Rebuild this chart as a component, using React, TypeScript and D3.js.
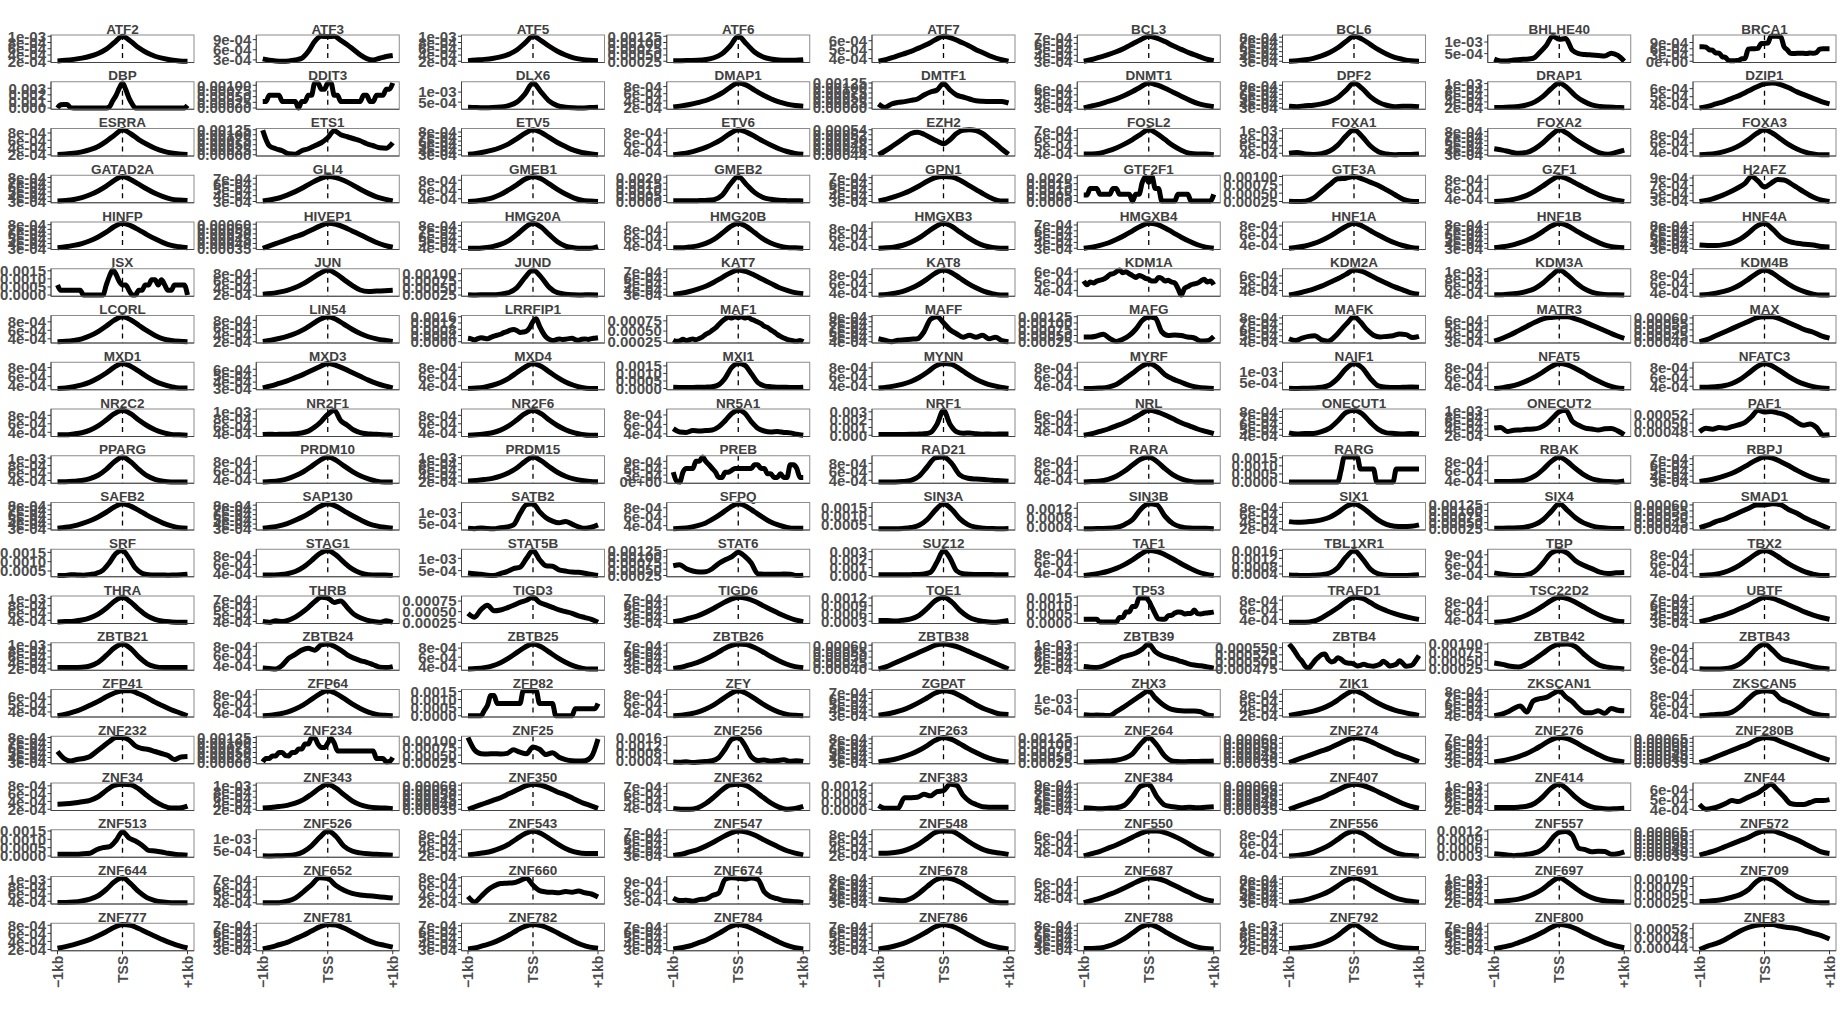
import React from "react";
import * as d3 from "d3";

// profile values and y ticks are stored in units of 1e-4
const UNIT = 1e-4;

const tfNames = [
  "ATF2", "ATF3", "ATF5", "ATF6", "ATF7", "BCL3", "BCL6", "BHLHE40", "BRCA1",
  "DBP", "DDIT3", "DLX6", "DMAP1", "DMTF1", "DNMT1", "DPF2", "DRAP1", "DZIP1",
  "ESRRA", "ETS1", "ETV5", "ETV6", "EZH2", "FOSL2", "FOXA1", "FOXA2", "FOXA3",
  "GATAD2A", "GLI4", "GMEB1", "GMEB2", "GPN1", "GTF2F1", "GTF3A", "GZF1", "H2AFZ",
  "HINFP", "HIVEP1", "HMG20A", "HMG20B", "HMGXB3", "HMGXB4", "HNF1A", "HNF1B", "HNF4A",
  "ISX", "JUN", "JUND", "KAT7", "KAT8", "KDM1A", "KDM2A", "KDM3A", "KDM4B",
  "LCORL", "LIN54", "LRRFIP1", "MAF1", "MAFF", "MAFG", "MAFK", "MATR3", "MAX",
  "MXD1", "MXD3", "MXD4", "MXI1", "MYNN", "MYRF", "NAIF1", "NFAT5", "NFATC3",
  "NR2C2", "NR2F1", "NR2F6", "NR5A1", "NRF1", "NRL", "ONECUT1", "ONECUT2", "PAF1",
  "PPARG", "PRDM10", "PRDM15", "PREB", "RAD21", "RARA", "RARG", "RBAK", "RBPJ",
  "SAFB2", "SAP130", "SATB2", "SFPQ", "SIN3A", "SIN3B", "SIX1", "SIX4", "SMAD1",
  "SRF", "STAG1", "STAT5B", "STAT6", "SUZ12", "TAF1", "TBL1XR1", "TBP", "TBX2",
  "THRA", "THRB", "TIGD3", "TIGD6", "TOE1", "TP53", "TRAFD1", "TSC22D2", "UBTF",
  "ZBTB21", "ZBTB24", "ZBTB25", "ZBTB26", "ZBTB38", "ZBTB39", "ZBTB4", "ZBTB42", "ZBTB43",
  "ZFP41", "ZFP64", "ZFP82", "ZFY", "ZGPAT", "ZHX3", "ZIK1", "ZKSCAN1", "ZKSCAN5",
  "ZNF232", "ZNF234", "ZNF25", "ZNF256", "ZNF263", "ZNF264", "ZNF274", "ZNF276", "ZNF280B",
  "ZNF34", "ZNF343", "ZNF350", "ZNF362", "ZNF383", "ZNF384", "ZNF407", "ZNF414", "ZNF44",
  "ZNF513", "ZNF526", "ZNF543", "ZNF547", "ZNF548", "ZNF550", "ZNF556", "ZNF557", "ZNF572",
  "ZNF644", "ZNF652", "ZNF660", "ZNF674", "ZNF678", "ZNF687", "ZNF691", "ZNF697", "ZNF709",
  "ZNF777", "ZNF781", "ZNF782", "ZNF784", "ZNF786", "ZNF788", "ZNF792", "ZNF800", "ZNF83",
];

// signal from -1kb to +1kb, points evenly spaced
const profiles: number[][] = [
  // row 1
  [2.1,2.3,2.6,3.0,3.6,4.5,5.9,8.0,10.0,8.4,6.3,4.7,3.6,2.9,2.4,2.1,2.0],
  [3.3,2.9,2.7,2.6,2.7,3.0,3.5,5.5,8.5,10.0,9.9,10.0,8.8,7.5,6.0,4.5,3.4,3.0,3.5,4.0,4.3],
  [2.2,2.4,2.6,2.9,3.4,4.2,5.6,7.8,10.0,8.6,6.8,5.2,4.0,3.1,2.6,2.3,2.2],
  [2.7,2.7,2.8,2.9,3.2,3.9,5.5,8.6,12.5,9.5,6.2,4.3,3.4,3.0,2.9,2.9,3.1],
  [3.7,3.9,4.2,4.5,4.8,5.2,5.6,6.1,6.5,6.3,5.9,5.5,5.0,4.6,4.2,3.9,3.7],
  [3.0,3.3,3.7,4.1,4.6,5.2,5.9,6.6,7.2,6.9,6.3,5.6,5.0,4.4,3.9,3.4,3.1],
  [3.0,3.1,3.3,3.6,4.1,4.8,5.8,7.1,8.2,7.6,6.5,5.4,4.5,3.8,3.4,3.1,3.0],
  [2.6,1.8,1.8,2.2,2.5,2.6,3.0,5.5,8.5,12.5,11.2,11.5,6.5,5.0,4.6,4.4,4.2,4.0,5.2,4.2,1.7],
  [7.0,7.0,6.8,5.5,5.3,4.0,3.9,2.2,1.8,0.3,0.2,0.3,0.4,1.2,1.3,5.8,6.0,6.0,6.2,8.5,
   8.6,8.7,12.0,12.0,12.0,11.8,7.0,5.5,3.8,3.7,3.8,3.8,3.8,3.7,4.0,3.8,4.2,5.8,6.0,6.0,6.0],
  // row 2
  [0,5,5.5,5.5,0.5,0,0,0,0,0,0,0,0,0,0,0,2,11,19,30,
   38,28,15,6,0,0,0,0,0,0,0,0,0,0,0,0,0,0,0,0,4],
  [2.9,2.9,5.6,5.6,5.6,5.6,2.9,2.9,2.9,2.9,2.9,0,2.9,2.9,5.6,5.6,11,11,8.3,8.3,
   11,11,5.6,5.6,2.9,2.9,2.9,2.9,2.9,2.9,2.9,5.6,5.6,2.9,2.9,5.6,5.6,5.6,8.3,8.3,11],
  [2.5,2.3,2.2,2.3,2.6,3.3,5.0,9.0,14.5,10.0,5.5,3.3,2.5,2.2,2.1,2.3,2.5],
  [2.3,2.6,3.0,3.5,4.1,5.0,6.2,7.8,9.0,8.4,7.0,5.7,4.6,3.7,3.1,2.7,2.5],
  [2.0,0.3,2.0,2.8,3.2,3.8,4.5,6.5,8.0,9.0,12.3,9.0,6.5,5.5,4.5,3.6,3.4,3.3,3.3,3.2,2.5],
  [3.0,3.3,3.6,4.0,4.4,4.9,5.5,6.2,6.8,6.5,6.0,5.4,4.8,4.2,3.7,3.4,3.2],
  [3.4,3.3,3.5,3.6,3.9,4.4,5.3,6.9,8.5,7.3,5.5,4.3,3.6,3.3,3.4,3.4,3.3],
  [2.2,2.2,2.3,2.5,3.0,4.0,5.8,8.3,10.2,8.6,6.0,4.2,3.0,2.5,2.3,2.2,2.1],
  [3.6,3.8,4.1,4.4,4.8,5.2,5.7,6.2,6.6,6.7,6.5,6.1,5.6,5.2,4.8,4.4,4.1],
  // row 3
  [2.1,2.2,2.4,2.8,3.4,4.3,5.7,7.4,8.9,7.8,6.2,4.9,3.8,3.0,2.5,2.2,2.1],
  [12.2,4.5,3.0,2.0,0.5,0.3,2.0,3.0,4.5,6.0,8.5,12.0,10.0,9.0,8.0,7.0,5.5,4.5,3.5,3.3,6.0],
  [3.1,3.3,3.6,4.0,4.6,5.4,6.5,7.7,8.5,7.9,6.8,5.7,4.8,4.0,3.5,3.2,3.0],
  [3.3,3.5,3.8,4.3,4.9,5.7,6.7,7.9,8.7,8.2,7.3,6.3,5.4,4.6,4.0,3.6,3.4],
  [4.40,4.55,4.72,4.90,5.08,5.25,5.30,5.22,5.08,4.95,4.84,5.00,5.25,5.38,5.40,5.37,5.25,5.05,4.85,4.62,4.42],
  [3.9,3.9,4.0,4.3,4.7,5.2,5.8,6.5,7.1,6.6,5.8,5.0,4.4,4.0,3.9,3.9,3.8],
  [4.0,4.2,3.8,3.7,3.9,4.6,6.2,8.6,10.3,8.5,6.0,4.4,3.8,3.6,3.7,3.7,3.8],
  [4.3,4.0,3.6,3.3,3.5,4.3,5.6,7.2,8.4,7.6,6.3,5.2,4.2,3.4,3.1,3.5,4.0],
  [3.3,3.4,3.6,4.0,4.6,5.5,6.7,8.1,9.0,8.2,6.9,5.6,4.6,3.9,3.5,3.3,3.3],
  // row 4
  [3.1,3.2,3.4,3.8,4.4,5.2,6.2,7.4,8.2,7.6,6.6,5.6,4.7,4.0,3.5,3.3,3.2],
  [3.1,3.3,3.6,4.1,4.7,5.4,6.2,6.9,7.3,7.1,6.6,5.9,5.1,4.4,3.8,3.4,3.1],
  [3.4,3.5,3.8,4.2,4.9,5.9,7.0,8.2,8.8,8.3,7.2,6.0,5.0,4.2,3.7,3.5,3.4],
  [0.6,0.6,0.6,0.7,0.9,1.5,5.0,14.0,20.5,14.0,7.5,3.5,1.8,1.0,0.7,0.6,0.5],
  [3.1,3.4,3.8,4.3,4.9,5.6,6.4,7.0,7.2,7.1,6.6,5.8,5.0,4.2,3.5,3.1,3.1],
  [5.5,5.5,11,11,11,6,6,6,6,11,11,6,6,6,6,0.5,6,6,16,21,
   16,21,11,11,0.5,0.5,0.5,0.5,0.5,6,6,6,6,0.5,0.5,0.5,0.5,0.5,0.5,0.5,6],
  [2.6,2.5,2.6,3.5,5.5,7.5,9.3,9.5,10.0,9.3,8.3,7.3,6.0,4.6,3.2,2.6,2.5],
  [3.3,3.4,3.6,4.0,4.6,5.5,6.6,7.8,8.6,8.1,7.2,6.3,5.4,4.6,4.0,3.6,3.3],
  [2.8,3.1,3.5,4.1,4.8,5.6,6.5,7.6,9.4,8.2,6.6,7.6,8.6,8.5,7.6,6.5,5.4,4.4,3.6,3.1,2.8],
  // row 5
  [3.1,3.3,3.6,4.0,4.6,5.4,6.4,7.6,8.3,7.8,6.9,5.9,5.0,4.2,3.6,3.3,3.1],
  [3.5,3.8,4.1,4.4,4.7,5.0,5.4,5.8,6.1,6.0,5.7,5.3,4.9,4.5,4.1,3.8,3.6],
  [3.8,3.8,3.9,4.1,4.5,5.2,6.3,7.6,8.4,7.7,6.3,5.0,4.2,3.9,3.8,3.8,4.1],
  [3.4,3.4,3.6,3.9,4.5,5.5,7.0,8.6,9.5,8.7,7.2,5.7,4.6,3.9,3.5,3.4,3.3],
  [3.4,3.5,3.7,4.1,4.8,5.8,7.1,8.4,9.2,8.5,7.2,5.9,4.8,4.0,3.6,3.4,3.4],
  [3.0,3.2,3.5,3.9,4.5,5.2,6.0,6.8,7.3,7.1,6.5,5.7,4.9,4.2,3.6,3.2,3.0],
  [3.1,3.3,3.6,4.1,4.8,5.7,6.8,7.9,8.6,8.0,7.0,6.0,5.1,4.3,3.7,3.3,3.1],
  [3.1,3.3,3.6,4.1,4.7,5.5,6.6,7.7,8.3,7.8,6.8,5.8,4.9,4.1,3.5,3.2,3.1],
  [3.7,3.6,3.6,3.8,4.2,5.0,6.3,7.8,8.5,7.2,5.4,4.5,4.1,3.9,3.7,3.4,3.3],
  // row 6
  [6.2,2.9,2.9,2.9,2.9,2.9,2.9,2.9,0,0,0,0,0,0,0,6.2,11.7,15.5,12.8,8.4,
   6.2,6.2,2.9,0,0,2.9,2.9,6.2,6.2,9.5,9.5,6.2,9.5,6.2,2.9,2.9,6.2,6.2,6.2,6.2,0],
  [2.2,2.4,2.8,3.3,4.1,5.2,6.6,8.0,9.0,8.0,6.3,4.7,3.4,3.0,3.1,3.2,3.3],
  [2.6,2.5,2.6,2.6,2.8,3.3,5.0,8.6,11.3,8.8,5.2,3.3,2.8,2.6,2.5,2.6,2.5],
  [3.1,3.3,3.6,4.0,4.5,5.2,6.0,6.8,7.3,7.0,6.4,5.7,5.0,4.3,3.8,3.4,3.2],
  [3.4,3.5,3.8,4.2,4.9,5.8,7.0,8.3,9.0,8.4,7.2,6.0,5.0,4.2,3.7,3.4,3.4],
  [5.0,4.6,4.9,4.8,5.0,5.1,5.2,5.4,5.7,5.8,6.0,6.2,5.9,6.0,5.8,5.6,5.4,5.6,5.5,5.3,
   5.2,5.0,5.0,5.4,5.3,5.0,5.1,4.9,4.8,4.2,3.5,4.2,4.4,4.6,4.7,4.8,5.0,5.2,4.9,5.0,4.6],
  [3.4,3.6,3.9,4.2,4.6,5.1,5.6,6.2,6.8,6.6,6.1,5.5,5.0,4.5,4.1,3.7,3.5],
  [3.6,3.6,3.8,4.0,4.5,5.3,6.8,8.8,10.4,9.0,7.0,5.3,4.3,3.8,3.6,3.6,3.5],
  [3.4,3.5,3.8,4.2,4.8,5.7,6.9,8.2,9.0,8.3,7.0,5.8,4.8,4.1,3.6,3.4,3.4],
  // row 7
  [3.3,3.4,3.6,4.0,4.7,5.7,7.0,8.4,9.2,8.5,7.2,5.9,4.8,4.0,3.6,3.4,3.3],
  [2.1,2.4,2.9,3.5,4.3,5.4,6.8,8.2,9.0,8.3,6.9,5.5,4.3,3.4,2.8,2.4,2.1],
  [2.2,1.8,1.2,2.0,2.6,2.2,1.9,2.8,3.6,4.2,4.8,5.8,6.5,7.4,7.8,7.2,6.0,6.2,6.8,9.0,
   13.0,14.8,10.0,6.0,3.0,1.5,0.8,1.2,1.8,1.5,1.6,2.0,2.2,1.4,0.9,1.6,1.8,1.5,2.0,2.3,2.6],
  [2.8,2.5,2.6,3.0,2.7,2.9,3.1,2.9,3.2,3.6,4.2,4.6,5.2,5.8,6.6,7.4,8.0,8.4,8.2,8.5,
   8.3,8.5,8.2,8.4,7.9,7.6,7.2,6.8,6.2,5.9,5.3,4.8,4.2,3.7,3.3,3.0,2.8,2.6,2.5,2.7,2.4],
  [4.6,4.3,4.0,4.3,4.4,4.5,4.6,6.0,8.5,9.0,7.8,6.4,5.6,4.9,5.3,4.9,5.3,4.6,4.9,4.2,4.0],
  [4.4,4.4,4.8,5.5,3.8,2.6,3.5,5.0,7.5,11.0,12.4,12.0,6.5,5.0,5.2,5.0,4.4,4.0,2.8,2.9,4.6],
  [4.5,4.2,4.6,4.9,5.0,4.3,4.1,4.8,6.0,7.2,8.2,7.3,6.0,5.1,4.8,4.9,5.0,5.3,5.2,4.7,4.9],
  [3.1,3.5,4.0,4.6,5.2,5.8,6.3,6.5,6.6,6.6,6.3,5.9,5.4,4.9,4.4,3.9,3.5],
  [4.0,4.2,4.5,4.8,5.1,5.4,5.7,6.0,6.1,6.1,5.9,5.6,5.3,5.0,4.8,4.5,4.3],
  // row 8
  [3.4,3.5,3.8,4.2,4.8,5.7,6.8,8.1,8.9,8.3,7.2,6.0,5.0,4.3,3.8,3.5,3.5],
  [3.1,3.4,3.8,4.2,4.7,5.2,5.8,6.4,6.9,6.6,6.1,5.5,4.9,4.3,3.8,3.4,3.1],
  [3.4,3.5,3.7,4.1,4.7,5.6,6.8,8.0,8.8,8.2,7.0,5.8,4.8,4.1,3.6,3.4,3.4],
  [0.8,0.7,0.7,0.7,0.8,0.9,1.2,2.5,7.0,14.0,16.6,15.5,10.0,4.0,1.8,1.2,0.9,0.8,0.7,0.7,0.9],
  [3.4,3.6,3.9,4.3,4.9,5.8,7.0,8.4,9.0,8.8,7.8,6.5,5.4,4.6,4.0,3.6,3.3],
  [3.4,3.4,3.5,3.7,4.3,5.5,6.8,8.2,9.0,8.2,6.5,5.5,4.8,4.1,3.7,3.5,3.4],
  [2.8,2.7,2.8,2.9,3.2,4.2,7.0,11.0,13.3,11.5,7.0,3.8,3.2,3.1,3.2,3.3,3.2],
  [3.4,3.6,3.9,4.4,5.1,6.0,7.1,8.3,9.0,8.7,7.9,6.9,5.8,4.9,4.1,3.6,3.4],
  [3.8,3.8,3.9,4.1,4.6,5.5,6.8,8.2,9.0,8.4,7.3,6.1,5.1,4.4,3.9,3.6,3.5],
  // row 9
  [3.4,3.4,3.6,3.9,4.5,5.5,6.9,8.4,9.2,8.4,6.9,5.6,4.6,3.9,3.5,3.4,3.3],
  [3.8,3.9,3.8,3.9,3.9,4.0,4.2,4.7,5.8,7.3,9.2,10.3,7.5,6.3,5.0,4.3,4.0,3.9,3.8,3.7,3.6],
  [3.3,3.4,3.6,3.9,4.5,5.5,6.9,8.4,9.2,8.4,6.9,5.6,4.6,3.9,3.5,3.3,3.3],
  [5.1,4.4,4.3,4.7,4.6,4.7,4.8,5.5,6.8,8.3,9.0,8.4,6.6,5.2,4.6,4.4,4.5,4.3,4.2,3.9,3.7],
  [1.0,1.0,1.0,1.1,1.1,1.2,1.4,1.8,3.5,14.0,32.0,14.0,4.5,2.5,3.0,1.8,1.4,1.5,1.3,1.6,1.6],
  [3.4,3.6,3.9,4.2,4.6,5.0,5.5,6.1,6.6,6.4,6.0,5.5,5.0,4.6,4.2,3.9,3.6],
  [4.4,4.2,4.3,4.3,4.6,5.2,6.4,7.8,8.2,7.6,6.2,5.0,4.4,4.3,4.2,4.3,4.2],
  [4.3,4.5,3.2,3.6,3.7,3.9,4.0,4.4,5.6,7.6,9.5,10.0,6.5,5.2,4.3,4.0,3.7,4.1,4.2,3.4,2.2],
  [4.80,4.88,4.86,4.90,4.88,4.92,4.96,5.02,5.15,5.30,5.26,5.27,5.24,5.20,5.12,5.02,4.95,4.98,4.90,4.72,4.73],
  // row 10
  [3.7,3.7,3.8,4.0,4.5,5.4,7.0,9.0,10.3,9.0,7.0,5.3,4.3,3.8,3.6,3.6,3.6],
  [3.4,3.5,3.7,4.1,4.8,5.7,6.9,8.2,9.0,8.3,7.0,5.8,4.8,4.1,3.6,3.4,3.4],
  [2.3,2.5,2.8,3.2,3.9,5.0,6.6,8.7,10.2,9.0,7.0,5.2,3.9,3.0,2.5,2.2,2.1],
  [4.3,0.5,0,4.3,5.9,5.9,5.9,9.0,9.0,10.9,9.0,7.5,5.9,4.3,2.0,2.0,4.3,4.3,5.1,5.9,
   5.9,5.9,5.9,5.9,5.9,7.5,7.5,5.9,5.9,3.6,3.6,2.0,2.0,3.6,2.0,2.0,7.5,7.5,5.9,2.0,2.0],
  [3.6,3.6,3.6,3.7,4.0,5.0,7.2,9.3,9.5,8.0,5.3,4.5,4.3,4.2,4.0,3.9,3.8],
  [3.4,3.5,3.6,4.0,4.7,5.8,7.2,8.5,9.0,8.0,6.4,5.0,4.1,3.6,3.4,3.4,3.4],
  [0,0,0,0,0,0,0,0,0,0,0,0,0,0,0,0,7,15.5,15.5,15.5,
   15.5,15.5,8,8,8,8,8,0,0,0,0,0,0,8,8,8,8,8,8,8,8],
  [3.7,3.7,3.7,3.8,4.1,4.9,6.3,8.0,9.0,8.0,6.5,5.2,4.3,3.9,3.7,3.6,3.8],
  [3.1,3.3,3.6,4.0,4.5,5.2,6.0,6.8,7.3,7.1,6.5,5.8,5.0,4.3,3.7,3.3,3.1],
  // row 11
  [3.1,3.3,3.6,4.1,4.7,5.5,6.5,7.6,8.3,7.8,6.9,5.9,5.0,4.2,3.6,3.2,3.1],
  [3.1,3.3,3.6,4.1,4.8,5.6,6.6,7.7,8.3,7.8,6.8,5.8,4.9,4.1,3.6,3.3,3.1],
  [2.6,2.4,2.8,2.5,2.4,2.9,3.2,4.2,9.5,13.8,14.2,10.5,7.6,6.0,5.2,5.8,4.6,3.3,2.6,3.1,4.2],
  [3.3,3.4,3.6,4.0,4.6,5.6,6.8,8.1,8.9,8.3,7.1,5.9,4.8,4.1,3.6,3.4,3.4],
  [2.6,2.6,2.6,2.8,3.3,4.6,8.0,13.5,17.2,14.0,8.5,5.0,3.5,2.9,2.7,2.6,2.7],
  [3.0,3.0,3.1,3.2,3.6,4.8,7.0,11.5,14.0,13.5,8.5,5.2,3.8,3.3,3.2,3.2,3.0],
  [4.0,3.8,3.9,4.1,4.5,5.2,6.5,8.2,9.0,8.0,6.2,4.4,3.2,2.7,2.6,2.7,3.1],
  [2.7,2.7,2.8,2.9,3.3,4.2,6.2,9.5,12.7,10.0,7.0,4.9,3.7,3.0,2.7,2.6,2.6],
  [4.1,4.3,4.6,4.8,5.1,5.4,5.7,6.0,6.0,6.1,6.0,5.6,5.3,4.9,4.6,4.3,4.0],
  // row 12
  [2.6,2.6,3.0,2.9,2.8,3.2,3.8,5.5,9.5,14.5,16.0,12.0,6.5,3.8,3.0,2.9,2.9,2.8,2.9,3.0,3.3],
  [3.6,3.6,3.7,3.9,4.4,5.4,6.9,8.5,9.2,8.2,6.5,5.0,4.1,3.7,3.6,3.6,3.5],
  [4.0,3.7,3.5,3.1,3.0,3.8,4.6,5.8,6.4,10.0,13.2,9.5,7.0,6.8,5.3,4.8,4.4,4.3,3.9,3.4,3.0],
  [6.4,6.8,5.2,4.3,3.9,4.0,5.2,7.3,8.8,10.0,11.8,10.2,7.5,3.2,3.0,3.0,3.0,3.1,3.0,2.5,2.6],
  [1.0,1.0,1.0,1.0,1.0,1.1,1.3,1.8,4.0,17.0,31.5,22.0,6.0,2.3,1.5,1.3,1.2,1.2,1.1,1.1,1.1],
  [3.3,3.5,3.8,4.2,4.8,5.6,6.6,7.8,8.6,8.4,7.7,6.8,5.8,4.9,4.1,3.6,3.3],
  [3.4,3.3,3.2,3.3,3.6,4.5,7.2,12.5,16.0,12.0,6.5,4.0,3.3,3.2,3.2,3.3,3.6],
  [3.5,3.1,2.8,2.7,2.9,4.0,6.5,9.5,10.3,9.5,7.2,5.8,4.8,3.7,3.3,3.5,3.6],
  [3.4,3.5,3.7,4.1,4.8,5.8,7.0,8.3,9.0,8.4,7.2,6.0,5.0,4.2,3.7,3.4,3.4],
  // row 13
  [3.6,3.7,3.8,4.1,4.7,5.7,7.3,9.2,10.3,9.0,7.0,5.3,4.3,3.8,3.6,3.5,3.5],
  [4.0,3.9,4.1,4.0,4.2,4.6,5.2,5.9,6.7,7.3,7.2,6.6,6.8,5.9,5.0,4.5,4.2,4.0,3.9,4.1,3.9],
  [4.6,3.7,5.5,6.5,5.2,5.4,5.9,6.5,7.2,7.7,8.4,7.2,6.6,6.0,5.4,5.0,4.6,4.0,3.6,3.2,2.5],
  [3.1,3.3,3.7,4.1,4.7,5.4,6.2,6.9,7.3,7.1,6.6,5.9,5.2,4.5,3.9,3.4,3.1],
  [3.3,3.3,3.1,3.4,3.9,5.3,8.0,11.0,12.3,10.5,7.2,4.8,3.5,2.9,2.6,2.8,3.3],
  [1.8,1.8,1.8,1.8,1.8,0.1,0.1,0.1,0.1,0.1,0.1,2.9,2.9,6.2,6.2,9.5,9.5,14.6,14.6,14.6,
   12.8,9.0,5.0,2.0,1.8,1.8,4.0,4.2,5.5,6.2,6.0,5.0,5.2,5.2,7.3,5.2,5.0,5.4,5.6,5.8,6.2],
  [3.4,3.4,3.4,3.6,4.3,5.3,6.4,7.7,8.6,8.4,7.5,6.5,5.8,5.2,4.7,4.3,4.0],
  [3.4,3.5,3.8,4.3,5.0,5.9,7.0,8.2,8.9,8.6,7.8,6.8,5.8,4.9,4.2,3.7,3.5],
  [3.1,3.4,3.8,4.2,4.7,5.3,5.9,6.6,7.2,7.0,6.5,5.9,5.3,4.7,4.2,3.8,3.5],
  // row 14
  [2.5,2.5,2.5,2.6,3.0,4.2,6.5,9.0,10.3,8.8,6.0,3.8,2.8,2.5,2.5,2.5,2.5],
  [3.4,3.3,3.2,4.0,5.5,6.3,7.2,7.6,7.2,8.3,8.5,8.0,7.2,6.2,5.5,5.0,4.6,4.1,3.6,3.5,3.7],
  [3.4,3.5,3.7,4.1,4.8,5.8,7.0,8.2,8.9,8.3,7.1,5.9,4.9,4.1,3.6,3.4,3.4],
  [3.1,3.3,3.7,4.1,4.7,5.4,6.2,6.9,7.2,7.1,6.6,5.9,5.1,4.4,3.8,3.4,3.2],
  [4.0,4.2,4.5,4.8,5.1,5.4,5.7,6.0,6.1,6.0,5.8,5.5,5.2,4.9,4.6,4.3,4.0],
  [2.8,2.6,2.5,3.0,4.0,5.0,6.0,6.6,7.3,8.6,10.3,7.8,6.5,5.8,5.2,4.5,3.8,3.3,3.1,2.7,2.3],
  [5.63,5.50,5.33,5.15,5.02,4.85,4.78,4.90,5.05,5.16,5.25,5.28,5.10,5.00,5.03,5.15,5.10,5.00,4.96,4.95,
   4.92,4.86,4.88,4.92,4.88,4.86,4.85,4.88,4.92,5.02,4.95,4.86,4.88,4.92,5.04,4.95,4.85,4.86,4.90,5.05,5.22],
  [4.3,3.9,3.3,3.1,4.0,5.5,7.2,9.0,9.9,10.0,9.2,7.0,5.0,3.6,3.0,2.7,2.5],
  [3.1,3.0,3.0,3.1,3.5,4.6,6.5,9.0,10.3,8.5,6.2,5.4,4.8,4.2,3.6,3.2,3.0],
  // row 15
  [3.5,3.7,4.0,4.4,4.9,5.4,6.0,6.5,6.8,6.8,6.4,5.9,5.3,4.8,4.3,3.9,3.5],
  [3.4,3.5,3.8,4.2,4.9,5.8,7.0,8.2,8.9,8.3,7.2,6.0,5.0,4.2,3.7,3.5,3.4],
  [0,0,0,0,0,3.2,6.4,12.4,12.4,7.5,7.5,7.5,7.5,7.5,7.5,7.5,7.5,15.4,15.4,15.4,
   15.4,15.4,7.5,7.5,7.5,7.5,7.5,0,0,0,0,0,0,4.3,4.3,4.3,4.3,4.3,4.3,4.3,7.5],
  [3.3,3.4,3.7,4.1,4.8,5.7,6.9,8.1,8.8,8.2,7.1,5.9,4.9,4.1,3.6,3.4,3.3],
  [3.1,3.3,3.6,4.0,4.6,5.3,6.1,6.9,7.3,7.1,6.5,5.7,4.9,4.2,3.7,3.3,3.2],
  [2.6,2.4,2.5,2.4,2.3,4.0,5.8,7.8,9.8,11.8,13.4,10.2,7.6,5.7,4.8,4.4,4.3,4.3,4.0,2.6,2.2],
  [2.1,2.5,2.9,3.3,4.0,5.0,6.4,8.0,9.0,8.2,6.8,5.5,4.4,3.6,3.0,2.5,2.1],
  [4.0,4.2,4.6,5.2,5.6,4.6,6.4,6.8,7.0,7.6,8.1,7.1,6.3,5.2,4.5,4.5,4.8,4.4,5.2,4.9,4.8],
  [3.5,3.6,3.8,3.9,4.3,5.5,7.2,8.6,9.0,8.8,7.2,6.4,5.6,4.7,4.0,3.6,3.5],
  // row 16
  [5.2,3.8,3.3,3.6,3.8,4.2,5.2,6.2,7.2,8.0,8.0,7.5,6.3,5.8,5.6,5.2,4.8,4.4,3.6,4.1,4.2],
  [0.3,2.0,2.0,3.3,3.3,5.0,5.0,3.5,3.3,5.0,5.0,6.7,6.7,9.2,9.2,12.2,12.2,9.2,7.5,7.5,
   9.7,12.0,9.7,5.8,5.8,5.8,5.8,5.8,5.8,5.8,5.8,5.8,5.8,5.8,5.8,2.0,2.0,2.0,0.3,0.5,2.5],
  [11.0,6.8,5.5,5.4,5.5,5.4,5.6,6.8,6.0,5.5,7.8,7.0,5.2,5.8,4.3,3.5,3.1,3.0,3.1,4.5,10.5],
  [3.2,3.0,3.3,2.9,3.2,3.4,3.8,5.5,10.0,15.0,16.0,12.0,6.0,4.0,4.2,3.6,3.9,4.3,3.5,3.8,3.4],
  [3.1,3.4,3.7,4.2,4.8,5.6,6.6,7.7,8.3,7.9,7.0,6.0,5.1,4.3,3.7,3.3,3.1],
  [2.7,2.8,2.9,3.1,3.4,4.2,6.0,10.0,12.6,9.5,5.0,3.0,2.8,2.9,2.9,3.0,3.1],
  [3.5,3.8,4.1,4.4,4.7,5.0,5.4,5.8,6.1,6.0,5.7,5.3,4.9,4.5,4.2,3.9,3.6],
  [3.1,3.3,3.6,4.0,4.5,5.2,6.0,6.8,7.2,7.0,6.4,5.6,4.9,4.2,3.6,3.3,3.1],
  [3.5,3.8,4.2,4.6,5.0,5.4,5.8,6.3,6.6,6.5,6.1,5.7,5.3,4.9,4.5,4.1,3.8],
  // row 17
  [3.3,3.4,3.6,3.9,4.3,5.2,6.8,8.1,8.4,8.3,7.2,5.5,4.0,2.9,2.3,2.3,2.8],
  [2.4,2.6,2.9,3.3,4.0,5.2,7.0,9.0,10.3,9.0,6.8,4.8,3.5,2.8,2.5,2.4,2.2],
  [3.5,3.8,4.1,4.4,4.7,5.1,5.5,5.9,6.1,6.0,5.7,5.3,5.0,4.6,4.2,3.9,3.6],
  [3.9,3.8,3.8,4.0,4.6,5.5,6.5,7.2,7.3,7.1,6.4,5.5,4.7,4.1,3.8,3.9,4.2],
  [1.8,0.5,0.5,0.5,5.8,5.8,6.0,7.5,6.7,8.8,9.3,12.5,12.0,7.0,4.0,2.4,1.2,1.0,1.0,1.0,1.0],
  [4.3,4.2,4.1,4.2,4.3,4.8,6.5,8.6,9.0,6.5,4.8,4.5,4.3,4.4,4.3,4.4,4.5],
  [3.5,3.8,4.1,4.4,4.7,5.1,5.5,5.9,6.1,6.0,5.7,5.3,4.9,4.5,4.1,3.8,3.6],
  [2.6,2.6,2.6,2.7,3.0,4.0,6.2,9.0,10.3,8.6,6.0,4.0,2.8,2.3,2.1,2.2,2.3],
  [4.5,4.0,4.1,4.3,4.6,4.9,4.8,5.1,5.4,5.7,6.2,6.6,6.0,5.3,4.6,4.5,4.5,4.7,4.9,4.9,5.0],
  // row 18
  [1.0,1.0,1.1,1.1,1.4,1.6,3.8,5.0,5.6,9.3,14.6,10.8,9.0,6.5,3.4,3.0,2.4,1.6,1.0,0.7,0.4],
  [2.8,2.7,2.8,2.9,3.3,4.5,7.0,10.5,13.2,11.0,6.8,4.8,4.0,3.6,3.4,3.2,3.0],
  [2.3,2.6,2.9,3.4,4.2,5.3,6.8,8.2,9.0,8.3,6.9,5.4,4.1,3.2,2.8,2.7,2.7],
  [3.1,3.3,3.7,4.1,4.7,5.4,6.2,6.9,7.3,7.1,6.6,5.9,5.2,4.5,3.9,3.5,3.2],
  [2.8,2.8,3.0,3.4,4.2,5.4,7.0,8.6,9.0,8.9,7.8,6.2,4.8,3.7,3.1,2.8,2.4],
  [3.4,3.7,4.0,4.4,4.8,5.3,5.8,6.3,6.6,6.6,6.4,6.0,5.5,4.9,4.3,3.8,3.4],
  [3.4,3.5,3.8,4.2,4.9,5.8,7.0,8.2,8.8,8.3,7.2,6.0,5.0,4.2,3.7,3.5,3.4],
  [3.8,3.6,3.4,3.1,3.3,3.6,4.0,4.8,6.6,9.6,11.5,11.8,10.5,5.8,5.3,4.5,4.7,4.6,3.6,3.8,4.5],
  [3.6,3.9,4.2,4.6,5.0,5.4,5.8,6.3,6.6,6.6,6.3,5.9,5.5,5.0,4.5,4.0,3.8],
  // row 19
  [3.7,3.7,3.8,4.1,4.6,5.5,7.2,9.3,10.4,8.8,6.6,5.0,4.2,3.8,3.6,3.6,3.6],
  [4.0,4.0,4.0,4.2,4.6,5.4,6.3,7.2,7.1,6.2,5.6,5.2,5.0,4.9,4.8,4.7,4.6],
  [3.5,2.2,3.5,5.0,6.0,6.6,6.7,6.8,7.3,7.9,6.2,4.9,4.6,4.5,4.4,4.7,4.5,4.8,4.4,4.1,3.4],
  [3.8,3.0,3.1,2.8,3.3,3.5,4.6,5.4,9.8,10.3,10.1,9.9,10.2,9.8,5.8,4.2,3.6,3.0,2.8,2.6,2.3],
  [3.8,3.6,3.5,3.4,3.9,5.0,6.4,7.7,8.2,8.0,7.3,6.3,5.2,4.2,3.3,3.0,3.0],
  [3.4,3.7,4.0,4.4,4.8,5.3,5.8,6.3,6.6,6.5,6.2,5.7,5.2,4.7,4.2,3.8,3.6],
  [3.1,3.3,3.6,4.1,4.7,5.5,6.6,7.7,8.3,7.8,6.8,5.8,4.9,4.1,3.6,3.3,3.1],
  [2.3,2.5,2.8,3.2,3.9,5.0,6.6,8.7,10.2,8.8,6.8,5.0,3.7,2.9,2.5,2.3,2.2],
  [2.9,3.0,3.2,3.6,4.2,5.0,6.5,9.0,10.2,9.5,7.8,6.0,4.4,3.4,2.7,2.5,2.5],
  // row 20
  [2.3,2.7,3.2,3.8,4.5,5.4,6.4,7.5,8.2,8.0,7.2,6.2,5.3,4.4,3.6,2.9,2.4],
  [3.1,3.4,3.8,4.2,4.8,5.4,6.1,6.8,7.2,7.1,6.6,5.9,5.2,4.5,4.0,3.7,3.4],
  [3.1,3.3,3.7,4.1,4.7,5.4,6.2,6.9,7.2,7.0,6.5,5.8,5.1,4.4,3.8,3.4,3.2],
  [3.1,3.3,3.6,4.1,4.6,5.3,6.1,6.9,7.3,7.0,6.4,5.7,5.0,4.3,3.7,3.3,3.1],
  [3.1,3.3,3.6,4.0,4.6,5.3,6.1,6.9,7.3,7.0,6.4,5.6,4.8,4.1,3.6,3.3,3.1],
  [3.2,3.2,3.3,3.7,4.4,5.3,6.5,7.7,8.3,7.8,6.8,5.8,4.9,4.1,3.5,3.2,3.1],
  [2.3,2.5,2.8,3.2,3.9,5.0,6.6,8.7,10.2,8.8,6.8,5.0,3.8,3.0,2.6,2.4,2.3],
  [3.1,3.4,3.7,4.2,4.7,5.3,6.0,6.8,7.3,7.1,6.6,5.9,5.2,4.6,4.0,3.6,3.3],
  [4.3,4.45,4.55,4.7,4.9,5.1,5.25,5.35,5.38,5.38,5.3,5.25,5.2,5.1,5.0,4.9,4.75],
];

const yTicks: number[][] = [
  // row 1
  [2,4,6,8,10], [3,6,9], [2,4,6,8,10], [2.5,5,7.5,10,12.5], [4,5,6], [3,4,5,6,7], [3,4,5,6,7,8], [5,10], [0,3,6,9],
  // row 2
  [0,10,20,30], [0,2.5,5,7.5,10], [5,10], [2,4,6,8], [0,2.5,5,7.5,10,12.5], [3,4,5,6], [3,4,5,6,7,8], [2,4,6,8,10], [4,5,6],
  // row 3
  [2,4,6,8], [0,2.5,5,7.5,10,12.5], [3,4,5,6,7,8], [4,6,8], [4.4,4.6,4.8,5,5.2,5.4], [4,5,6,7], [4,6,8,10], [3,4,5,6,7,8], [4,6,8],
  // row 4
  [3,4,5,6,7,8], [3,4,5,6,7], [4,6,8], [0,5,10,15,20], [3,4,5,6,7], [0,5,10,15,20], [2.5,5,7.5,10], [4,6,8], [3,5,7,9],
  // row 5
  [3,4,5,6,7,8], [3.5,4,4.5,5,5.5,6], [4,5,6,7,8], [4,6,8], [4,6,8], [3,4,5,6,7], [4,6,8], [3,4,5,6,7,8], [3,4,5,6,7,8],
  // row 6
  [0,5,10,15], [2,4,6,8], [2.5,5,7.5,10], [3,4,5,6,7], [4,6,8], [4,5,6], [4,5,6], [4,6,8,10], [4,6,8],
  // row 7
  [4,6,8], [2,4,6,8], [0,4,8,12,16], [2.5,5,7.5], [4,5,6,7,8,9], [2.5,5,7.5,10,12.5], [4,5,6,7,8], [3,4,5,6], [4,4.5,5,5.5,6],
  // row 8
  [4,6,8], [3,4,5,6], [4,6,8], [0,5,10,15], [4,6,8], [4,6,8], [5,10], [4,6,8], [4,6,8],
  // row 9
  [4,6,8], [4,6,8,10], [4,6,8], [4,6,8], [0,10,20,30], [4,5,6], [4,5,6,7,8], [2,4,6,8,10], [4.8,5,5.2],
  // row 10
  [4,6,8,10], [4,6,8], [2,4,6,8,10], [0,3,6,9], [4,6,8], [4,6,8], [0,5,10,15], [4,6,8], [3,4,5,6,7],
  // row 11
  [3,4,5,6,7,8], [3,4,5,6,7,8], [5,10], [4,6,8], [5,10,15], [4,8,12], [2,4,6,8], [2.5,5,7.5,10,12.5], [4,4.5,5,5.5,6],
  // row 12
  [5,10,15], [4,6,8], [5,10], [2.5,5,7.5,10,12.5], [0,10,20,30], [4,6,8], [4,8,12,16], [3,6,9], [4,6,8],
  // row 13
  [4,6,8,10], [4,5,6,7], [2.5,5,7.5], [3,4,5,6,7], [3,6,9,12], [0,5,10,15], [4,6,8], [4,6,8], [3,4,5,6,7],
  // row 14
  [2,4,6,8,10], [4,6,8], [4,6,8], [3,4,5,6,7], [4,4.5,5,5.5,6], [2,4,6,8,10], [4.75,5,5.25,5.5], [2.5,5,7.5,10], [3,6,9],
  // row 15
  [4,5,6], [4,6,8], [0,5,10,15], [4,6,8], [3,4,5,6,7], [5,10], [2,4,6,8], [4,5,6,7,8], [4,6,8],
  // row 16
  [3,4,5,6,7,8], [0,2.5,5,7.5,10,12.5], [2.5,5,7.5,10], [4,8,12,16], [3,4,5,6,7,8], [2.5,5,7.5,10,12.5], [3.5,4,4.5,5,5.5,6], [3,4,5,6,7], [3.5,4,4.5,5,5.5,6,6.5],
  // row 17
  [2,4,6,8], [2,4,6,8,10], [3.5,4,4.5,5,5.5,6], [4,5,6,7], [0,4,8,12], [4,5,6,7,8,9], [3.5,4,4.5,5,5.5,6], [2,4,6,8,10], [4,5,6],
  // row 18
  [0,5,10,15], [5,10], [2,4,6,8], [3,4,5,6,7], [2,4,6,8], [4,5,6], [4,6,8], [3,6,9,12], [3.5,4,4.5,5,5.5,6,6.5],
  // row 19
  [4,6,8,10], [4,5,6,7], [2,4,6,8], [3,6,9], [3,4,5,6,7,8], [4,5,6], [3,4,5,6,7,8], [2,4,6,8,10], [2.5,5,7.5,10],
  // row 20
  [2,4,6,8], [3,4,5,6,7], [3,4,5,6,7], [3,4,5,6,7], [3,4,5,6,7], [3,4,5,6,7,8], [2,4,6,8,10], [3,4,5,6,7], [4.4,4.8,5.2],
];

const xTickValues = [-1000, 0, 1000];
const xTickLabels = ["\u22121kb", "TSS", "+1kb"];

const W = 1842;
const H = 1028;
const NCOL = 9;
const NROW = 20;
const LEFT0 = 51;
const COL_STEP = 205.25;
const PANEL_W = 143;
const TOP0 = 35;
const ROW_STEP = 46.75;
const PANEL_H = 27.5;
const FONT = "'Liberation Sans', Arial, Helvetica, sans-serif";
const TEXT_GREY = "#4d4d4d";

// mimic R's format() choice between fixed and scientific notation
function rFormat(vals: number[]): string[] {
  const info = vals.map((v) => {
    if (v === 0) return { sig: 1, e: 0, zero: true };
    let sig = 1;
    while (sig < 7 && Math.abs(+v.toPrecision(sig) - v) > Math.abs(v) * 1e-8) sig++;
    const e = Math.floor(Math.log10(Math.abs(+v.toPrecision(sig))) + 1e-9);
    return { sig, e, zero: false };
  });
  const rgt = Math.max(0, ...info.map((d) => (d.zero ? 0 : Math.max(0, d.sig - 1 - d.e))));
  const left = Math.max(1, ...info.map((d) => (d.zero ? 1 : Math.max(1, d.e + 1))));
  const neg = vals.some((v) => v < 0) ? 1 : 0;
  const wF = neg + left + (rgt > 0 ? rgt + 1 : 0);
  const mF = Math.max(...info.map((d) => d.sig - 1));
  const wE = neg + (mF > 0 ? mF + 2 : 1) + 4;
  if (wF <= wE) return vals.map((v) => v.toFixed(rgt));
  return vals.map((v) => {
    const [m, ex] = v.toExponential(mF).split("e");
    const n = parseInt(ex, 10);
    return `${m}e${n < 0 ? "-" : "+"}${String(Math.abs(n)).padStart(2, "0")}`;
  });
}

function Panel({ idx }: { idx: number }) {
  const col = idx % NCOL;
  const row = Math.floor(idx / NCOL);
  const x0 = LEFT0 + col * COL_STEP;
  const y0 = TOP0 + row * ROW_STEP;
  const vals = profiles[idx];
  const ticks = yTicks[idx];

  const x = d3.scaleLinear().domain([-1100, 1100]).range([x0, x0 + PANEL_W]);
  const [lo, hi] = d3.extent([...vals, ...ticks]) as [number, number];
  const pad = (hi - lo) * 0.05;
  const y = d3.scaleLinear().domain([lo - pad, hi + pad]).range([y0 + PANEL_H, y0]);

  const n = vals.length;
  const line = d3
    .line<number>()
    .x((_, j) => x(-1000 + (j * 2000) / (n - 1)))
    .y((v) => y(v))
    .curve(d3.curveMonotoneX);

  const labels = rFormat(ticks.map((t) => +(t * UNIT).toPrecision(10)));
  const isBottom = row === NROW - 1;

  return (
    <g>
      <text
        x={x0 + PANEL_W / 2}
        y={y0 - 1.5}
        textAnchor="middle"
        fontFamily={FONT}
        fontWeight="bold"
        fontSize={13.5}
        fill="#404040"
      >
        {tfNames[idx]}
      </text>
      <line
        x1={x(0)}
        x2={x(0)}
        y1={y0}
        y2={y0 + PANEL_H}
        stroke="#000"
        strokeWidth={1.3}
        strokeDasharray="5,4"
      />
      <path d={line(vals) || ""} fill="none" stroke="#000" strokeWidth={5} strokeLinejoin="round" />
      <rect x={x0} y={y0} width={PANEL_W} height={PANEL_H} fill="none" stroke="#8a8a8a" strokeWidth={1} />
      <path
        d={`M${x0},${y0}V${y0 + PANEL_H}H${x0 + PANEL_W}`}
        fill="none"
        stroke="#444"
        strokeWidth={1}
      />
      {ticks.map((t, k) => (
        <g key={k}>
          <line x1={x0 - 3.5} x2={x0} y1={y(t)} y2={y(t)} stroke="#333" strokeWidth={1} />
          <text
            x={x0 - 5}
            y={y(t)}
            dy="0.36em"
            textAnchor="end"
            fontFamily={FONT}
            fontWeight="bold"
            fontSize={15}
            fill={TEXT_GREY}
          >
            {labels[k]}
          </text>
        </g>
      ))}
      {isBottom &&
        xTickValues.map((v, k) => (
          <g key={"x" + k}>
            <line x1={x(v)} x2={x(v)} y1={y0 + PANEL_H} y2={y0 + PANEL_H + 3.5} stroke="#333" strokeWidth={1} />
            <text
              transform={`translate(${x(v)},${y0 + PANEL_H + 5}) rotate(-90)`}
              dy="0.36em"
              textAnchor="end"
              fontFamily={FONT}
              fontWeight="bold"
              fontSize={14}
              fill={TEXT_GREY}
            >
              {xTickLabels[k]}
            </text>
          </g>
        ))}
    </g>
  );
}

export default function App() {
  return (
    <svg
      width={W}
      height={H}
      viewBox={`0 0 ${W} ${H}`}
      style={{ position: "absolute", left: 0, top: 0, background: "#fff" }}
    >
      <rect width={W} height={H} fill="#fff" />
      {tfNames.map((name, i) => (
        <Panel key={name} idx={i} />
      ))}
    </svg>
  );
}
